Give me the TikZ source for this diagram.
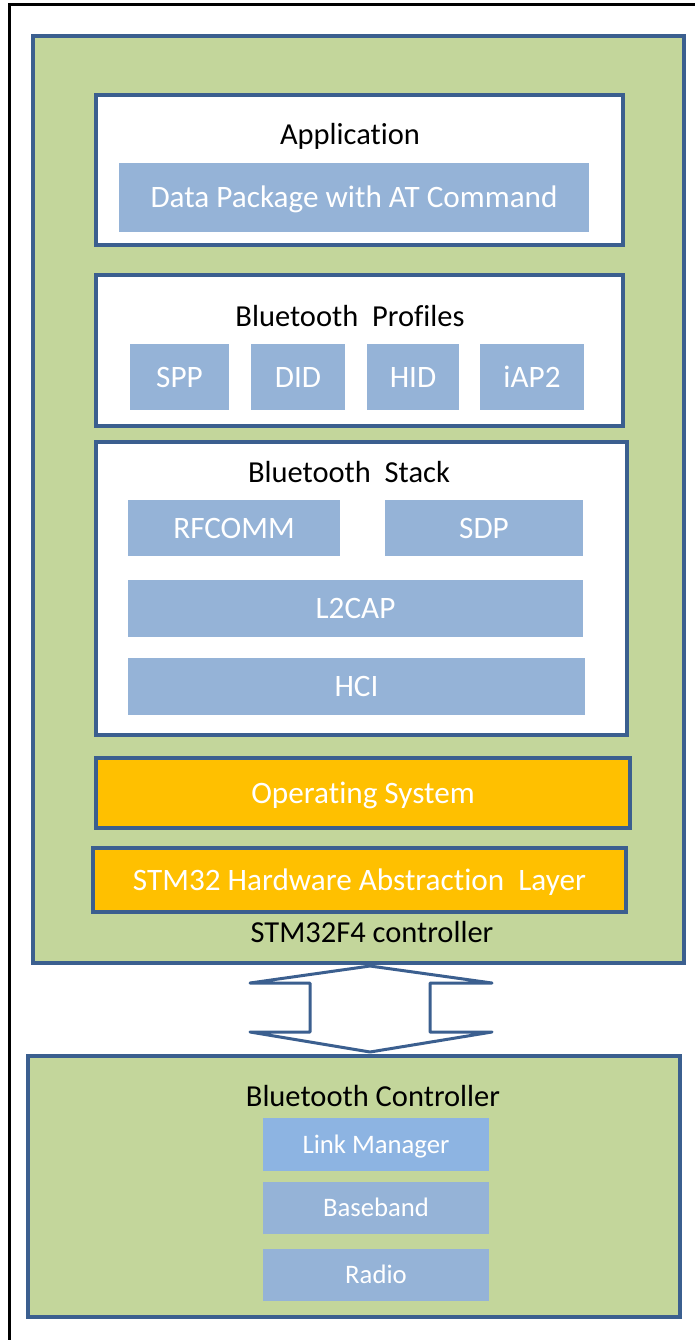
\documentclass[tikz,border=0pt]{standalone}
\usepackage{fontspec}
\setmainfont{Carlito}[Ligatures=NoCommon]
\definecolor{bgreen}{HTML}{C3D69B}
\definecolor{bblue}{HTML}{3B5F8F}
\definecolor{lblue}{HTML}{95B3D7}
\definecolor{lmblue}{HTML}{8DB4E2}
\definecolor{borange}{HTML}{FFC000}
\tikzset{
  layer/.style={draw=bblue, line width=3.5pt, inner sep=0pt, outer sep=0pt},
  greenbox/.style={layer, fill=bgreen},
  whitebox/.style={layer, fill=white},
  orangebox/.style={layer, fill=borange, text=white, font=\fontsize{31.2}{36}\selectfont, text height=20pt, text depth=0pt},
  bluebox/.style={fill=lblue, draw=none, inner sep=0pt, text=white, font=\fontsize{31.2}{36}\selectfont, text height=20pt, text depth=0pt},
  smallbox/.style={bluebox, font=\fontsize{26.7}{30}\selectfont, text height=17.2pt},
  title/.style={inner sep=0pt, text=black, font=\fontsize{30.5}{36}\selectfont, text height=19.6pt, text depth=0pt},
}
\begin{document}
\begin{tikzpicture}[x=1pt,y=-1pt]
\useasboundingbox (0,0) rectangle (694,1340);
% outer frame
\draw[line width=3pt, black] (9,1345) -- (9,5) -- (700,5);
% STM32F4 controller
\node[greenbox, minimum width=651, minimum height=927] (main) at (358.5,499.5) {};
% Application
\node[whitebox, minimum width=527, minimum height=150] (app) at (359.5,170) {};
\node[title] (appt) at (350,135) {Application};
\node[bluebox, minimum width=470, minimum height=69] (dpkg) at (354,197.5) {Data Package with AT Command};
% Profiles
\node[whitebox, minimum width=527, minimum height=151] (prof) at (359.5,350.5) {};
\node[title] (proft) at (350,317) {Bluetooth\ \ Profiles};
\node[bluebox, minimum width=99, minimum height=66] (spp) at (179.5,377) {SPP};
\node[bluebox, minimum width=94, minimum height=66] (did) at (298,377) {DID};
\node[bluebox, minimum width=92, minimum height=66] (hid) at (413,377) {HID};
\node[bluebox, minimum width=104, minimum height=66] (iap) at (532,377) {iAP2};
% Stack
\node[whitebox, minimum width=531, minimum height=293] (stack) at (361.5,588.5) {};
\node[title] (stackt) at (349,473) {Bluetooth\ \ Stack};
\node[bluebox, minimum width=212, minimum height=56] (rfcomm) at (234,528) {RFCOMM};
\node[bluebox, minimum width=198, minimum height=56] (sdp) at (484,528) {SDP};
\node[bluebox, minimum width=455, minimum height=57] (l2cap) at (355.5,608.5) {L2CAP};
\node[bluebox, minimum width=457, minimum height=57] (hci) at (356.5,686.5) {HCI};
% OS and HAL
\node[orangebox, minimum width=534, minimum height=70] (os) at (363,793) {Operating System};
\node[orangebox, minimum width=533, minimum height=64] (hal) at (359.5,880) {STM32 Hardware Abstraction\ \ Layer};
\node[title] (maint) at (372,933) {STM32F4 controller};
% Bluetooth controller
\node[greenbox, minimum width=652, minimum height=261] (ctrl) at (354,1186.5) {};
\node[title] (ctrlt) at (373,1097) {Bluetooth Controller};
\node[smallbox, fill=lmblue, minimum width=226, minimum height=53] (lm) at (376,1144.5) {Link Manager};
\node[smallbox, minimum width=226, minimum height=52] (bb) at (376,1208) {Baseband};
\node[smallbox, minimum width=226, minimum height=52] (radio) at (376,1275) {Radio};
% double arrow between controllers
\coordinate (tipT) at (370,966);
\coordinate (tipB) at (370,1052);
\draw[draw=bblue, fill=white, line width=3pt, line join=round]
  (tipT) -- (492,983) -- (430,983) -- (430,1032) -- (492,1032) -- (tipB)
  -- (250,1032) -- (310,1032) -- (310,983) -- (250,983) -- cycle;
\end{tikzpicture}
\end{document}
